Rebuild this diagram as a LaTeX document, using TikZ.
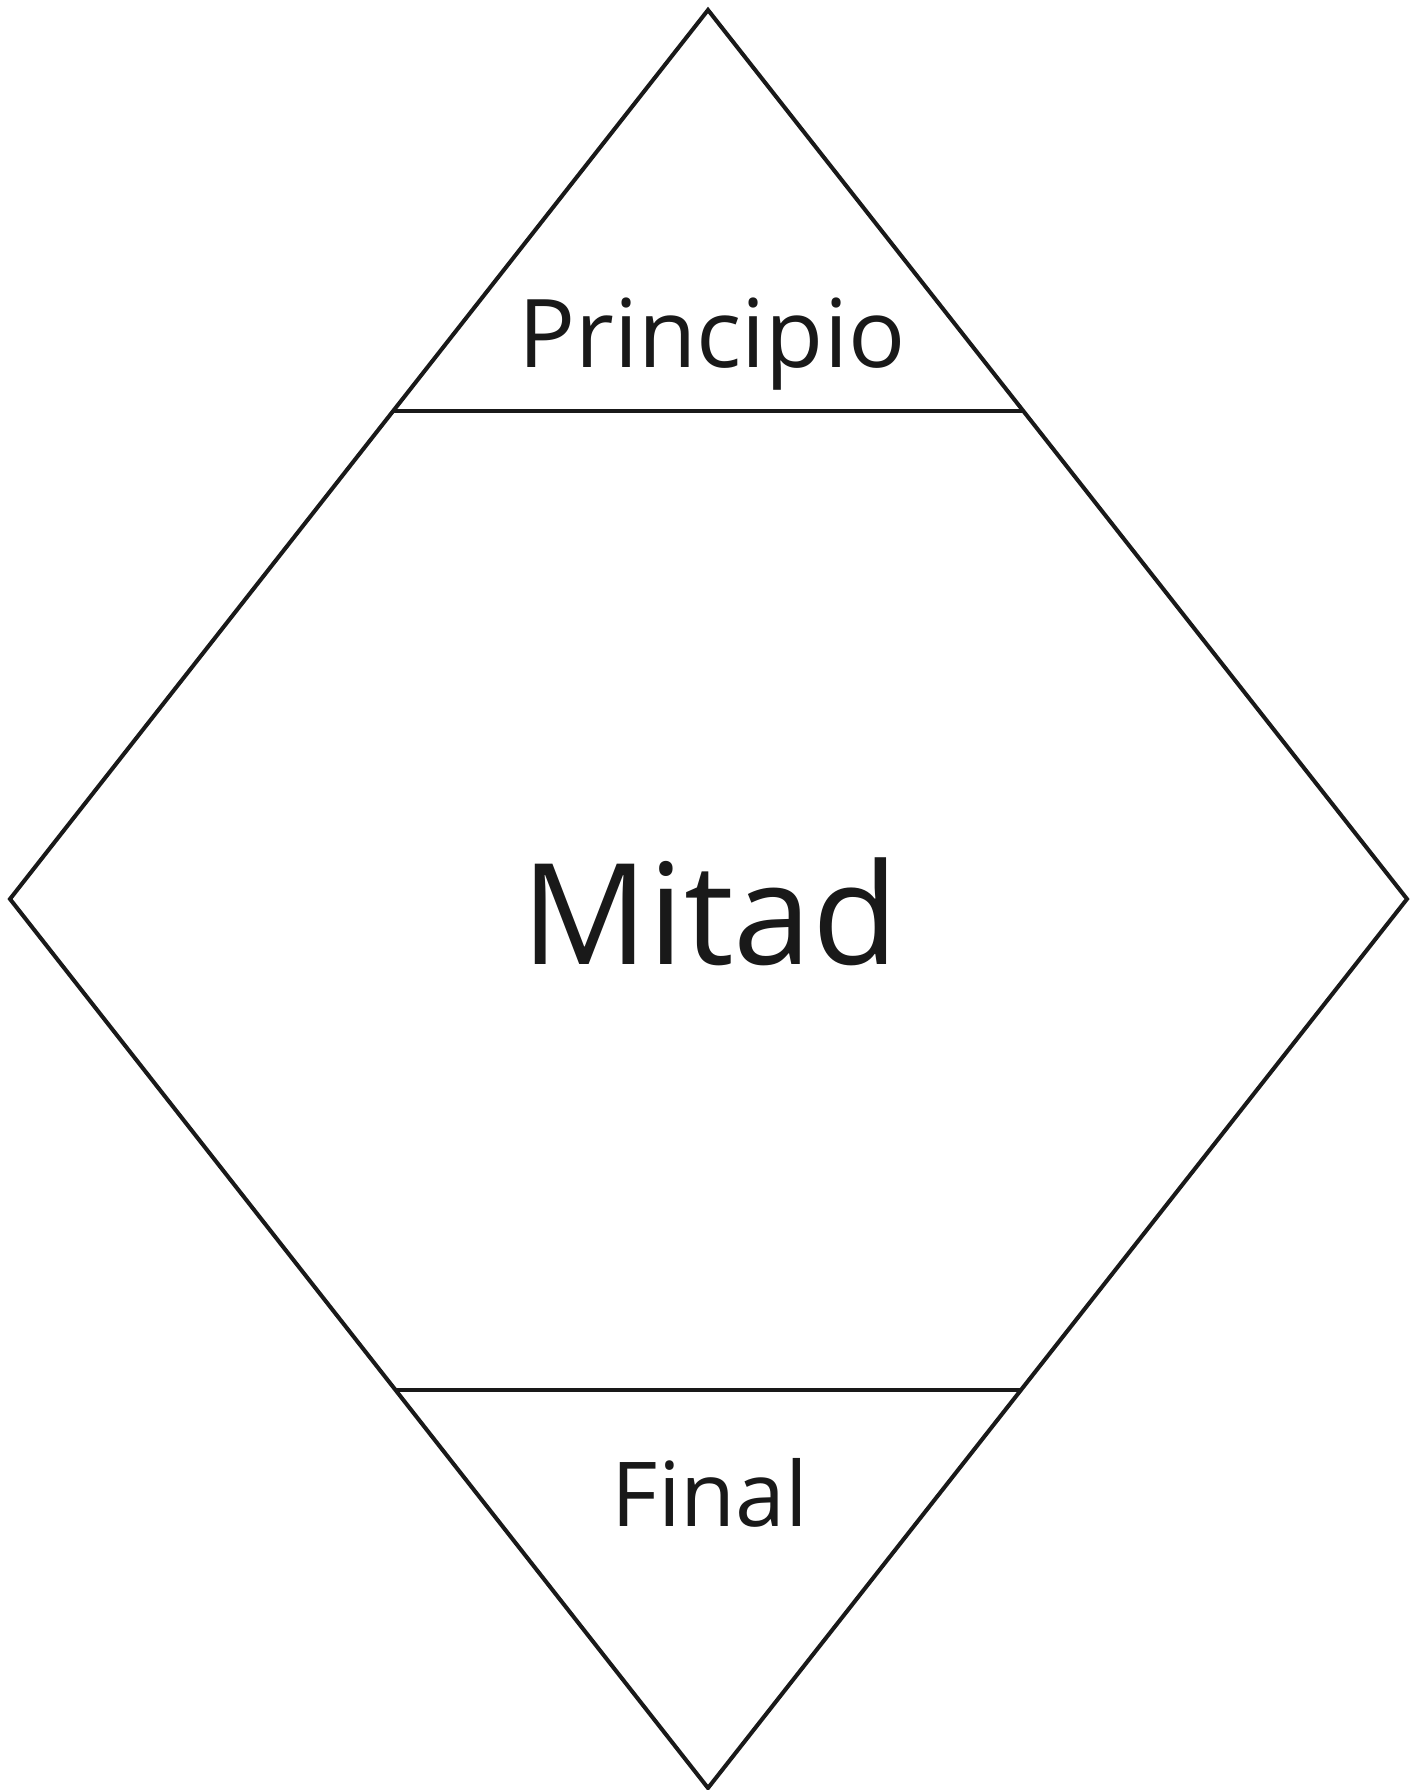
\documentclass[tikz,border=0pt]{standalone}
\usepackage{fontspec}
\setmainfont{Open Sans}
\usetikzlibrary{calc}
\tikzset{
  edge/.style  = {line width=2.3pt, draw=black!90, line join=miter},
  part/.style  = {line width=2.3pt, draw=black!90},
  lab/.style   = {font=\fontsize{54}{58}\selectfont, text=black!90, inner sep=0pt, anchor=base},
  biglab/.style = {font=\fontsize{80}{84}\selectfont, text=black!90, inner sep=0pt, anchor=base},
}
\begin{document}
\begin{tikzpicture}[x=0.02cm, y=-0.02cm]
\useasboundingbox (0,0) rectangle (1421,1790);

% Corners of the diamond
\coordinate (top)    at (708,10);
\coordinate (left)   at (10,899);
\coordinate (right)  at (1407,899);
\coordinate (bottom) at (708,1788);

\draw [edge] (top) -- (right) -- (bottom) -- (left) -- cycle;

% Dividing lines, ends on the sides
\coordinate (tl) at ($(top)!0.451!(left)$);
\coordinate (tr) at ($(top)!0.451!(right)$);
\coordinate (bl) at ($(left)!0.552!(bottom)$);
\coordinate (br) at ($(right)!0.552!(bottom)$);
\draw [part] (tl) -- (tr);
\draw [part] (bl) -- (br);

% Labels
\node (begin) [lab]     at (712,368)  {Principio};
\node (middle) [biglab] at (710,964)  {Mitad};
\node (end) [lab, font=\fontsize{51}{55}\selectfont] at (710,1526) {Final};

\end{tikzpicture}
\end{document}
